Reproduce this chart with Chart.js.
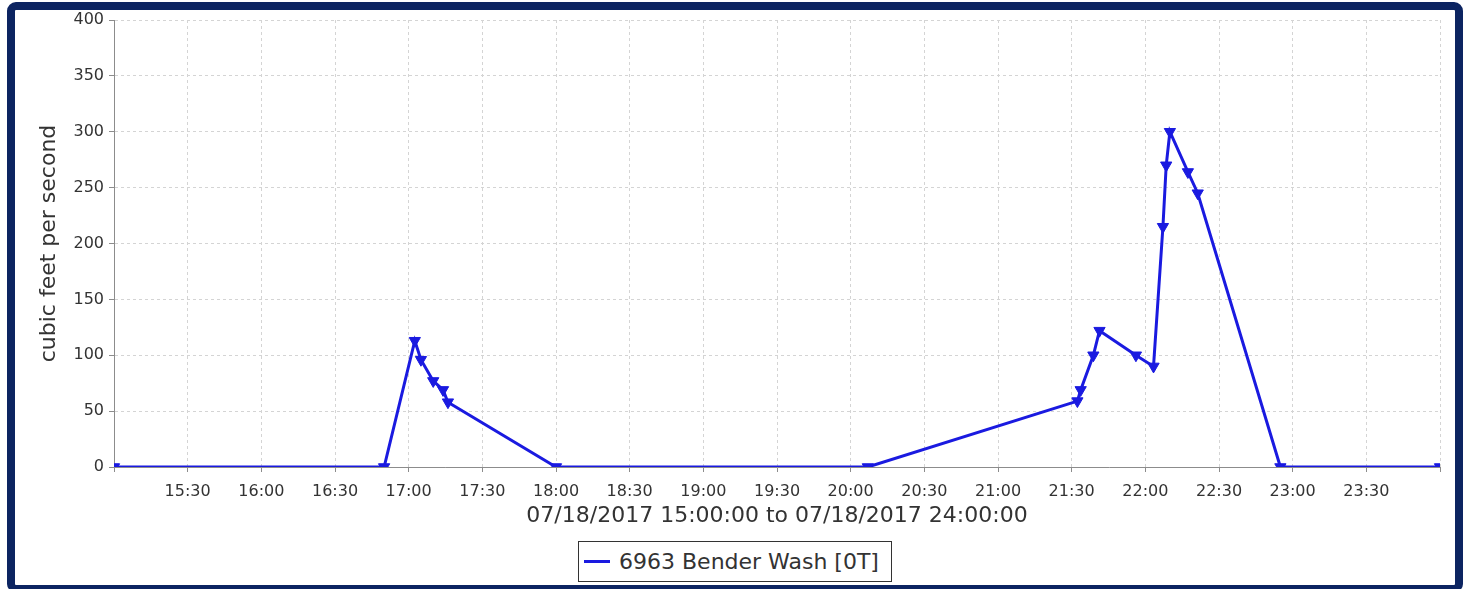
<!DOCTYPE html>
<html>
<head>
<meta charset="utf-8">
<title>6963 Bender Wash</title>
<script src="https://cdn.jsdelivr.net/npm/chart.js@4/dist/chart.umd.min.js"></script>
<style>
  html, body { margin: 0; padding: 0; background: #fff; width: 1466px; height: 589px; overflow: hidden; font-family: "DejaVu Sans", sans-serif; }
  #frame { position: absolute; left: 7px; top: 2px; width: 1440px; height: 575px; border: 8px solid #0c2461; border-radius: 9px; background: #fff; }
  #plot { position: absolute; left: 0; top: 0; }
  #legend { position: absolute; left: 0; top: 531px; width: 1440px; text-align: center; }
  .lg-item { display: inline-flex; align-items: center; box-sizing: border-box; height: 41px; border: 1px solid #333; padding: 0 12px 0 5px; font-size: 22px; color: #333; background: #fff; }
  .lg-swatch { display: inline-block; width: 26px; height: 3px; margin-right: 9px; }
</style>
</head>
<body>
<div id="frame">
  <canvas id="plot" width="1440" height="575"></canvas>
  <div id="legend"></div>
</div>
<script>
// Gauge record for the evening of 07/18/2017
const seriesName = "6963 Bender Wash [0T]";
const axisStart = "15:00";
const axisEnd = "24:00";
const rangeTitle = "07/18/2017 15:00:00 to 07/18/2017 24:00:00";
const unitTitle = "cubic feet per second";

// observation times and discharge (cfs)
const obsTimes = ["15:00", "16:50", "17:02:30", "17:05", "17:10", "17:14", "17:16", "18:00",
                  "20:07", "21:32:20", "21:33:40", "21:38:50", "21:41:20", "21:56:10", "22:03:20",
                  "22:07:10", "22:08:30", "22:10", "22:17:20", "22:21:20", "22:55", "24:00"];
const obsFlow = [0, 0, 113, 96, 77, 69, 58, 0,
                 0, 59, 69, 100, 122, 100, 90,
                 215, 270, 300, 264, 245, 0, 0];

// axis tick labels
const timeTickLabels = ["15:30", "16:00", "16:30", "17:00", "17:30", "18:00", "18:30", "19:00", "19:30",
                        "20:00", "20:30", "21:00", "21:30", "22:00", "22:30", "23:00", "23:30"];
const flowTicks = [0, 50, 100, 150, 200, 250, 300, 350, 400];

const lineBlue = "#1a1ae0";

function clockToMinutes(t) {
  const p = t.split(":").map(Number);
  return p[0] * 60 + p[1] + (p[2] || 0) / 60;
}
const t0 = clockToMinutes(axisStart);
const sinceStart = t => clockToMinutes(t) - t0;

const xMax = sinceStart(axisEnd);
const xTickValues = [0, ...timeTickLabels.map(sinceStart), xMax];
const xLabelByValue = new Map(timeTickLabels.map(l => [sinceStart(l), l]));

const points = obsTimes.map((t, i) => ({ x: sinceStart(t), y: obsFlow[i] }));

const tickFont = { family: "DejaVu Sans", size: 16 };
const titleFont = { family: "DejaVu Sans", size: 22 };
const gridCol = "#d4d4d4";
const axisCol = "#8c8c8c";
const textCol = "#333";

// keep the plot edges fixed instead of reserving room for overhanging tick labels
function noOverhang(s) {
  s.paddingTop = 0; s.paddingBottom = 0; s.paddingLeft = 0; s.paddingRight = 0;
}

const chart = new Chart(document.getElementById("plot"), {
  type: "line",
  data: {
    datasets: [{
      label: seriesName,
      data: points,
      borderColor: lineBlue,
      backgroundColor: lineBlue,
      borderWidth: 3,
      tension: 0,
      fill: false,
      clip: 0,
      pointStyle: "triangle",
      pointRotation: 180,
      pointRadius: 6.5,
      pointBorderWidth: 1,
      pointBackgroundColor: lineBlue,
      pointBorderColor: lineBlue
    }]
  },
  options: {
    responsive: false,
    animation: false,
    devicePixelRatio: 1,
    layout: { padding: { top: 10, right: 15, bottom: 56, left: 0 } },
    plugins: { legend: { display: false }, tooltip: { enabled: false } },
    scales: {
      x: {
        type: "linear",
        min: 0,
        max: xMax,
        afterBuildTicks: s => { s.ticks = xTickValues.map(v => ({ value: v })); },
        afterFit: s => { s.height = 62; noOverhang(s); },
        grid: { color: gridCol, lineWidth: 1, tickLength: 5, tickColor: axisCol, tickBorderDash: [] },
        border: { color: axisCol, width: 1, dash: [3, 3] },
        ticks: {
          autoSkip: false, maxRotation: 0, padding: 10, color: textCol, font: tickFont,
          callback: v => xLabelByValue.get(v) || ""
        },
        title: { display: true, text: rangeTitle, color: textCol, font: titleFont, padding: { top: 0, bottom: 0 } }
      },
      y: {
        min: flowTicks[0],
        max: flowTicks[flowTicks.length - 1],
        afterBuildTicks: s => { s.ticks = flowTicks.map(v => ({ value: v })); },
        afterFit: s => { s.width = 99; noOverhang(s); },
        grid: { color: gridCol, lineWidth: 1, tickLength: 5, tickColor: axisCol, tickBorderDash: [] },
        border: { color: axisCol, width: 1, dash: [3, 3] },
        ticks: { padding: 5, color: textCol, font: tickFont },
        title: { display: true, text: unitTitle, color: textCol, font: titleFont, padding: { top: 21, bottom: 0 } }
      }
    }
  }
});

// legend box below the axis title
const legendBox = document.getElementById("legend");
chart.data.datasets.forEach(ds => {
  const item = document.createElement("span");
  item.className = "lg-item";
  const sw = document.createElement("span");
  sw.className = "lg-swatch";
  sw.style.background = ds.borderColor;
  item.appendChild(sw);
  item.appendChild(document.createTextNode(ds.label));
  legendBox.appendChild(item);
});
</script>
</body>
</html>
